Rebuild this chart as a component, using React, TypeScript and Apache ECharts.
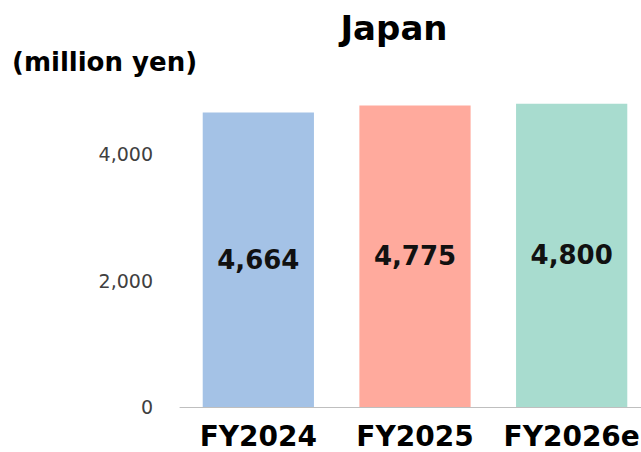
import React, { useEffect, useRef } from "react";
import * as echarts from "echarts";

const categories = ["FY2024", "FY2025", "FY2026e"];
const values = [4664, 4775, 4800];
const barColors = ["#A4C2E6", "#FFAA9D", "#A8DCCF"];
const yTicks = [0, 2000, 4000];
const titleText = "Japan";
const unitText = "(million yen)";

export default function App() {
  const ref = useRef<HTMLDivElement>(null);
  useEffect(() => {
    if (!ref.current) return;
    const chart = echarts.init(ref.current, undefined, { renderer: "svg" });
    chart.setOption({
      animation: false,
      backgroundColor: "#ffffff",
      graphic: [
        {
          type: "text",
          x: 394,
          y: 28,
          style: {
            text: titleText,
            font: "bold 34px 'DejaVu Sans'",
            fill: "#000",
            align: "center",
            verticalAlign: "middle",
          },
        },
        {
          type: "text",
          x: 12,
          y: 62,
          style: {
            text: unitText,
            font: "bold 26px 'DejaVu Sans'",
            fill: "#000",
            align: "left",
            verticalAlign: "middle",
          },
        },
      ],
      grid: {
        left: 180,
        width: 470,
        top: 28,
        height: 379,
        containLabel: false,
        outerBoundsMode: "none",
      },
      xAxis: {
        type: "category",
        data: categories,
        axisLine: { show: true, lineStyle: { color: "#BFBFBF", width: 1 } },
        axisTick: { show: false },
        axisLabel: {
          interval: 0,
          margin: 15,
          fontFamily: "DejaVu Sans",
          fontWeight: "bold",
          fontSize: 28,
          color: "#000",
        },
      },
      yAxis: {
        type: "value",
        min: 0,
        max: 6000,
        interval: 2000,
        splitLine: { show: false },
        axisLine: { show: false },
        axisTick: { show: false },
        axisLabel: {
          margin: 27,
          fontFamily: "DejaVu Sans",
          fontSize: 19,
          color: "#404040",
          formatter: (v: number) =>
            yTicks.includes(v) ? v.toLocaleString("en-US") : "",
        },
      },
      series: [
        {
          type: "bar",
          barWidth: "71%",
          data: values.map((v, i) => ({
            value: v,
            itemStyle: { color: barColors[i] },
          })),
          label: {
            show: true,
            position: "inside",
            fontFamily: "DejaVu Sans",
            fontWeight: "bold",
            fontSize: 26,
            color: "#111",
            formatter: (p: any) => Number(p.value).toLocaleString("en-US"),
          },
        },
      ],
    });
    return () => chart.dispose();
  }, []);
  return (
    <div
      ref={ref}
      style={{ position: "absolute", left: 0, top: 0, width: 641, height: 452 }}
    />
  );
}
